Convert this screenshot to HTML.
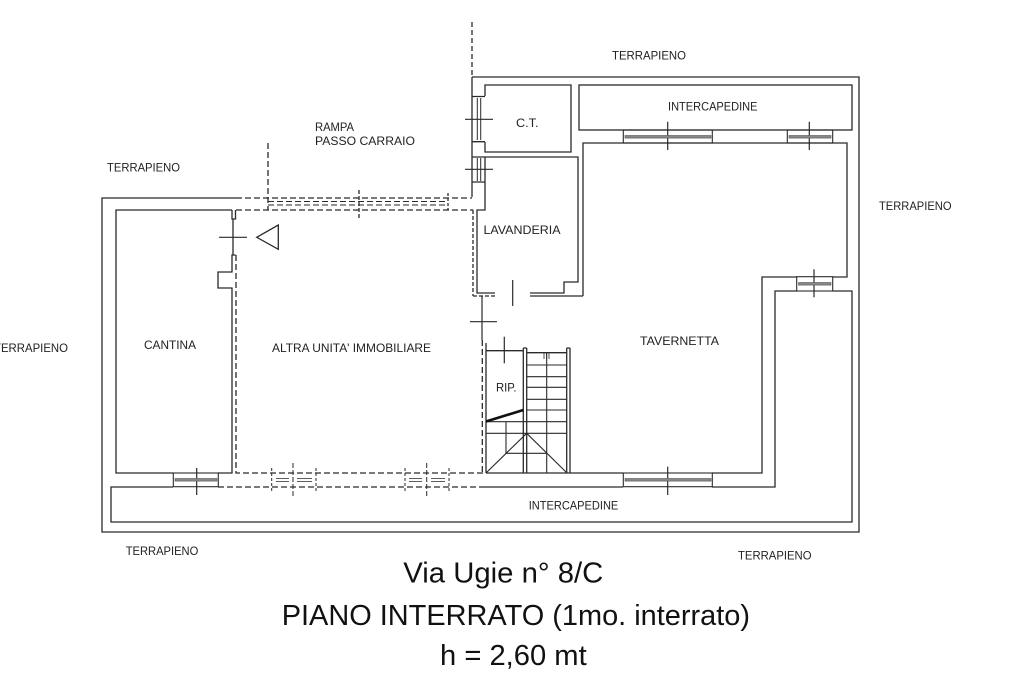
<!DOCTYPE html>
<html><head><meta charset="utf-8"><style>
html,body{margin:0;padding:0;background:#fff;}
svg{display:block;}
text{font-family:"Liberation Sans",Arial,sans-serif;fill:#222;}
.l{font-size:11.5px;}
.t{font-size:29px;fill:#111;}
</style></head><body>
<svg width="1024" height="683" viewBox="0 0 1024 683" xmlns="http://www.w3.org/2000/svg">
<g fill="none" stroke="#2a2a2a" stroke-width="1.3">
<!-- outer perimeter -->
<path d="M472,77 H859 V532 H102 V198 H236"/>
<path d="M472,77 V197"/>
<path d="M472,22 V77" stroke-dasharray="5,3"/>
<!-- top intercapedine -->
<rect x="579" y="85" width="273" height="45"/>
<!-- C.T. -->
<path d="M485,96 V85 H571 V152 H485 V142"/>
<path d="M472,96.5 H485 M472,141.7 H485 M472,157 H485 M472,182 H485"/>
<path d="M477.3,98 V140 M480.7,98 V140 M477.3,158 V181 M480.7,158 V181" stroke-width="1"/>
<!-- lavanderia -->
<path d="M485,157 H578 V282 H564 V293 H530"/>
<path d="M495,293 H477 V210 H485 V157"/>
<path d="M530,296 H583"/>
<path d="M473,296 H495" stroke-dasharray="4,2"/>
<path d="M473,210 V296" stroke-dasharray="4,2"/>
<!-- tavernetta -->
<path d="M583,296 V143 H847 V277 H833"/>
<path d="M797,277 H762 V473 H712"/>
<path d="M623,473 H486"/>
<!-- intercapedine bottom / right -->
<path d="M483,487 H623"/>
<path d="M712,487 H775 V291 H797"/>
<path d="M833,291 H852 V522 H111 V487 H173"/>
<!-- cantina -->
<path d="M232,210 H116 V473 H173"/>
<path d="M218,473 H232 V288 H218 V272 H232 V255 H235.5"/>
<path d="M232,210 V219 H235.5 V210"/>
<path d="M233,219 V255"/>
<!-- dashed altra unità -->
<g stroke-dasharray="6,3">
<path d="M236,198 H472"/>
<path d="M236,210 H473"/>
<path d="M236,255 V473 H483"/>
<path d="M218,487 H483"/>
<path d="M482.3,340 V473"/>
<path d="M268,201.5 H448 M268,205 H448" stroke-width="1"/>
<path d="M268,143 V210"/>
<path d="M448,193 V210" stroke-dasharray="3,2"/>
<path d="M359,190 V218" stroke-dasharray="4,2"/>
</g>
<!-- triangle -->
<polygon points="256.7,237.3 278.3,225 278.3,249.3"/>
<!-- door/window crosses -->
<g stroke-width="1.2">
<path d="M219,237.3 H247"/>
<path d="M465,119.3 H493 M465,169.3 H493"/>
<path d="M512.7,280 V306"/>
<path d="M470,321.7 H497"/>
<path d="M482,296 V340"/>
<path d="M504.3,336.7 V363.3"/>
<path d="M667.7,121.7 V150 M809.3,121.7 V150"/>
<path d="M667.7,466.7 V495"/>
<path d="M196.7,468 V495"/>
<path d="M814,269.3 V297.3"/>
</g>
<!-- windows -->
<g stroke-width="1.1">
<rect x="623.3" y="130" width="89" height="13"/>
<rect x="787.3" y="130" width="45.4" height="13"/>
<rect x="623.3" y="473" width="89" height="13.7"/>
<rect x="173.3" y="473" width="45" height="13.7"/>
<rect x="796.7" y="276.7" width="36" height="14.3"/>
</g>
<g fill="#888" stroke="#555" stroke-width="0.6">
<rect x="625" y="135.5" width="86" height="2.6"/>
<rect x="789" y="135.5" width="42" height="2.6"/>
<rect x="625" y="478.5" width="86" height="2.6"/>
<rect x="175" y="478.5" width="42" height="2.6"/>
<rect x="798.5" y="282.5" width="32.5" height="2.6"/>
</g>
<!-- dashed window marks -->
<g stroke-width="1">
<path d="M271.7,468 V493 M316,468 V493 M405,468 V493 M449,468 V493" stroke-dasharray="3,2"/>
<path d="M293,463 V497 M426.7,463 V497" stroke-dasharray="5,2"/>
<path d="M276,478.5 H289 M297,478.5 H312 M276,481.5 H289 M297,481.5 H312 M409,478.5 H422 M431,478.5 H445 M409,481.5 H422 M431,481.5 H445" stroke-width="0.8"/>
</g>
<!-- stairs -->
<path d="M486,343 V473"/>
<path d="M486,350.7 H523.3"/>
<path d="M523.3,348 V473 M526.7,348 V473 M523.3,348 H526.7"/>
<path d="M566.7,348 V473 M570,348 V473 M566.7,348 H570"/>
<path d="M527,352.7 H567"/>
<g stroke-width="1.1">
<path d="M527,365 H567 M527,376.7 H567 M527,387.3 H567 M527,399.3 H567 M527,410 H567"/>
<path d="M486,421.7 H567 M486,433.3 H567"/>
<path d="M546.7,352.7 V473"/>
<path d="M506,421.7 V453.3 H546.7"/>
<path d="M526.7,433.3 L486,473 M526.7,433.3 L567,473"/>
<path d="M544,353 V359 M546.5,353 V359 M549,353 V359" stroke-width="0.8"/>
</g>
<path d="M486,421.5 L523.3,410" stroke-width="2.6" stroke="#111"/>
</g>
<!-- labels -->
<text class="l" x="612" y="59.5" textLength="74" lengthAdjust="spacingAndGlyphs">TERRAPIENO</text>
<text class="l" x="315" y="131" textLength="39" lengthAdjust="spacingAndGlyphs">RAMPA</text>
<text class="l" x="315" y="145" textLength="100" lengthAdjust="spacingAndGlyphs">PASSO CARRAIO</text>
<text class="l" x="107" y="171.5" textLength="73" lengthAdjust="spacingAndGlyphs">TERRAPIENO</text>
<text class="l" x="-6" y="352" textLength="74" lengthAdjust="spacingAndGlyphs">TERRAPIENO</text>
<text class="l" x="144" y="349" textLength="52" lengthAdjust="spacingAndGlyphs">CANTINA</text>
<text class="l" x="272" y="352" textLength="159" lengthAdjust="spacingAndGlyphs">ALTRA UNITA' IMMOBILIARE</text>
<text class="l" x="516" y="127" textLength="22.5" lengthAdjust="spacingAndGlyphs">C.T.</text>
<text class="l" x="668" y="110.5" textLength="89.5" lengthAdjust="spacingAndGlyphs">INTERCAPEDINE</text>
<text class="l" x="879" y="210" textLength="72.5" lengthAdjust="spacingAndGlyphs">TERRAPIENO</text>
<text class="l" x="483.5" y="234" textLength="77" lengthAdjust="spacingAndGlyphs">LAVANDERIA</text>
<text class="l" x="640" y="345" textLength="79" lengthAdjust="spacingAndGlyphs">TAVERNETTA</text>
<text class="l" x="496" y="391.5" textLength="20.5" lengthAdjust="spacingAndGlyphs">RIP.</text>
<text class="l" x="528.7" y="509.5" textLength="89.6" lengthAdjust="spacingAndGlyphs">INTERCAPEDINE</text>
<text class="l" x="125.7" y="555" textLength="72.6" lengthAdjust="spacingAndGlyphs">TERRAPIENO</text>
<text class="l" x="738" y="559.5" textLength="73.5" lengthAdjust="spacingAndGlyphs">TERRAPIENO</text>
<text class="t" x="403.3" y="582.7" textLength="200" lengthAdjust="spacingAndGlyphs">Via Ugie n° 8/C</text>
<text class="t" x="281.7" y="625" textLength="468.3" lengthAdjust="spacingAndGlyphs">PIANO INTERRATO (1mo. interrato)</text>
<text class="t" x="440" y="665" textLength="146.7" lengthAdjust="spacingAndGlyphs">h = 2,60 mt</text>
</svg>
</body></html>
